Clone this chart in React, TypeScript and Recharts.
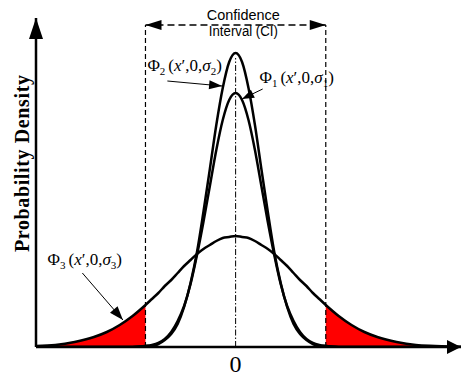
import React from 'react';
import { ComposedChart, Line, Area, XAxis, YAxis, ReferenceLine, ReferenceDot } from 'recharts';

// x positions (in units of sigma3) and the three density curves
const xValues = [
  -3.1, -2.8, -2.5, -2.2, -2.0, -1.8, -1.6, -1.4,
  -1.3, -1.2, -1.1, -1.0, -0.9, -0.8, -0.7, -0.6, -0.5, -0.4, -0.3, -0.2, -0.1,
  0,
  0.1, 0.2, 0.3, 0.4, 0.5, 0.6, 0.7, 0.8, 0.9, 1.0, 1.1, 1.2, 1.3,
  1.4, 1.6, 1.8, 2.0, 2.2, 2.5, 2.8, 3.1, 3.5,
];

const phi1Values = [
  0, 0, 0, 0, 0, 0, 0, 0.01,
  0.02, 0.04, 0.08, 0.15, 0.26, 0.41, 0.63, 0.92, 1.25, 1.61, 1.97, 2.27, 2.47,
  2.54,
  2.47, 2.27, 1.97, 1.61, 1.25, 0.92, 0.63, 0.41, 0.26, 0.15, 0.08, 0.04, 0.02,
  0.01, 0, 0, 0, 0, 0, 0, 0, 0,
];

const phi2Values = [
  0, 0, 0, 0, 0, 0, 0, 0.01,
  0.01, 0.03, 0.07, 0.13, 0.23, 0.4, 0.64, 0.95, 1.35, 1.78, 2.22, 2.59, 2.85,
  2.94,
  2.85, 2.59, 2.22, 1.78, 1.35, 0.95, 0.64, 0.4, 0.23, 0.13, 0.07, 0.03, 0.01,
  0.01, 0, 0, 0, 0, 0, 0, 0, 0,
];

const phi3Values = [
  0.01, 0.02, 0.05, 0.1, 0.15, 0.22, 0.31, 0.42,
  0.48, 0.54, 0.61, 0.67, 0.74, 0.81, 0.87, 0.93, 0.98, 1.02, 1.06, 1.09, 1.1,
  1.11,
  1.1, 1.09, 1.06, 1.02, 0.98, 0.93, 0.87, 0.81, 0.74, 0.67, 0.61, 0.54, 0.48,
  0.42, 0.31, 0.22, 0.15, 0.1, 0.05, 0.02, 0.01, 0,
];

const ciBounds = [-1.4, 1.4];
const tickLabels = [0];

const data = xValues.map((x, i) => ({
  x,
  phi1: phi1Values[i],
  phi2: phi2Values[i],
  phi3: phi3Values[i],
  tail: x <= ciBounds[0] || x >= ciBounds[1] ? phi3Values[i] : null,
}));

const SERIF = '"Liberation Serif", "Times New Roman", serif';

// line with a filled arrow head at (x2,y2), optionally at (x1,y1) too
const Arrow = (props: any) => {
  const { x1, y1, x2, y2, both, head = 12, half = 4, dash, width = 1 } = props;
  const a = Math.atan2(y2 - y1, x2 - x1);
  const tri = (tx: number, ty: number, ang: number) => {
    const bx = tx - head * Math.cos(ang);
    const by = ty - head * Math.sin(ang);
    return `${tx},${ty} ${bx - half * Math.sin(ang)},${by + half * Math.cos(ang)} ${bx + half * Math.sin(ang)},${by - half * Math.cos(ang)}`;
  };
  return (
    <g>
      <line x1={x1} y1={y1} x2={x2} y2={y2} stroke="#000" strokeWidth={width} strokeDasharray={dash} />
      <polygon points={tri(x2, y2, a)} fill="#000" />
      {both && <polygon points={tri(x1, y1, a + Math.PI)} fill="#000" />}
    </g>
  );
};

const PhiLabel = ({ cx, cy, n }: any) => (
  <text x={cx} y={cy} fontFamily={SERIF} fontSize={17} fill="#000">
    <tspan>Φ</tspan>
    <tspan fontSize={11} dy={4}>{n}</tspan>
    <tspan dy={-4} dx={3}>(</tspan>
    <tspan fontStyle="italic">x</tspan>
    <tspan>′,0,</tspan>
    <tspan fontStyle="italic">σ</tspan>
    <tspan fontSize={11} dy={4}>{n}</tspan>
    <tspan dy={-4}>)</tspan>
  </text>
);

const App: React.FC = () => (
  <div style={{ position: 'absolute', left: 0, top: 0 }}>
    <ComposedChart width={462} height={376} data={data} margin={{ top: 18, right: 1, bottom: 0, left: 36 }}>
      <XAxis
        type="number"
        dataKey="x"
        domain={[-3.1, 3.5]}
        ticks={tickLabels}
        allowDataOverflow
        axisLine={false}
        tickLine={false}
        height={29}
        tick={{ fontSize: 24, fontFamily: SERIF, fill: '#000' }}
      />
      <YAxis type="number" domain={[0, 3.29]} allowDataOverflow hide />

      <Area dataKey="tail" type="monotone" fill="#ff0000" fillOpacity={1} stroke="none" isAnimationActive={false} />
      <Line dataKey="phi3" type="monotone" stroke="#000" strokeWidth={2.5} dot={false} isAnimationActive={false} />
      <Line dataKey="phi1" type="monotone" stroke="#000" strokeWidth={2.5} dot={false} isAnimationActive={false} />
      <Line dataKey="phi2" type="monotone" stroke="#000" strokeWidth={2.5} dot={false} isAnimationActive={false} />

      {/* confidence interval bounds */}
      {ciBounds.map((b) => (
        <ReferenceLine
          key={b}
          ifOverflow="visible"
          segment={[{ x: b, y: 0 }, { x: b, y: 3.22 }]}
          stroke="#000"
          strokeWidth={1.2}
          strokeDasharray="5 3"
        />
      ))}
      <ReferenceLine
        ifOverflow="visible"
        segment={[{ x: ciBounds[0], y: 3.22 }, { x: ciBounds[1], y: 3.22 }]}
        shape={(p: any) => <Arrow {...p} both head={16} half={5} width={1.3} dash="7 4" />}
      />
      <ReferenceLine
        ifOverflow="visible"
        segment={[{ x: 0, y: 0 }, { x: 0, y: 2.89 }]}
        stroke="#000"
        strokeWidth={1}
        strokeDasharray="6 2 1.5 2"
      />

      {/* axes with arrow heads */}
      <ReferenceLine
        ifOverflow="visible"
        segment={[{ x: -3.1, y: 0 }, { x: 3.5, y: 0 }]}
        shape={(p: any) => <Arrow {...p} head={14} half={7} width={2.5} />}
      />
      <ReferenceLine
        ifOverflow="visible"
        segment={[{ x: -3.1, y: 0 }, { x: -3.1, y: 3.29 }]}
        shape={(p: any) => <Arrow {...p} head={21} half={7} width={2.5} />}
      />

      {/* pointers to the curves */}
      <ReferenceLine
        ifOverflow="visible"
        segment={[{ x: -1.06, y: 2.66 }, { x: -0.21, y: 2.61 }]}
        shape={(p: any) => <Arrow {...p} head={13} half={4.5} width={1} />}
      />
      <ReferenceLine
        ifOverflow="visible"
        segment={[{ x: 0.42, y: 2.58 }, { x: 0.1, y: 2.48 }]}
        shape={(p: any) => <Arrow {...p} head={12} half={4.5} width={1} />}
      />
      <ReferenceLine
        ifOverflow="visible"
        segment={[{ x: -2.38, y: 0.74 }, { x: -1.75, y: 0.27 }]}
        shape={(p: any) => <Arrow {...p} head={14} half={5} width={1} />}
      />

      {/* text */}
      <ReferenceDot x={-1.37} y={2.76} ifOverflow="visible" shape={(p: any) => <PhiLabel cx={p.cx} cy={p.cy} n="2" />} />
      <ReferenceDot x={0.37} y={2.64} ifOverflow="visible" shape={(p: any) => <PhiLabel cx={p.cx} cy={p.cy} n="1" />} />
      <ReferenceDot x={-2.92} y={0.82} ifOverflow="visible" shape={(p: any) => <PhiLabel cx={p.cx} cy={p.cy} n="3" />} />
      <ReferenceDot
        x={0.12}
        y={3.27}
        ifOverflow="visible"
        shape={(p: any) => (
          <g fontFamily='"Liberation Sans", Arial, sans-serif' fontSize={14} fill="#000" textAnchor="middle">
            <text x={p.cx} y={p.cy} textLength={73} lengthAdjust="spacingAndGlyphs">Confidence</text>
            <text x={p.cx} y={p.cy + 16} textLength={69} lengthAdjust="spacingAndGlyphs">Interval (CI)</text>
          </g>
        )}
      />
      <ReferenceDot
        x={-3.1}
        y={1.835}
        ifOverflow="visible"
        shape={(p: any) => (
          <text
            x={p.cx - 7}
            y={p.cy}
            transform={`rotate(-90, ${p.cx - 7}, ${p.cy})`}
            textAnchor="middle"
            fontFamily={SERIF}
            fontWeight="bold"
            fontSize={20}
            fill="#000"
            textLength={177}
            lengthAdjust="spacing"
          >
            Probability  Density
          </text>
        )}
      />
    </ComposedChart>
  </div>
);

export default App;
